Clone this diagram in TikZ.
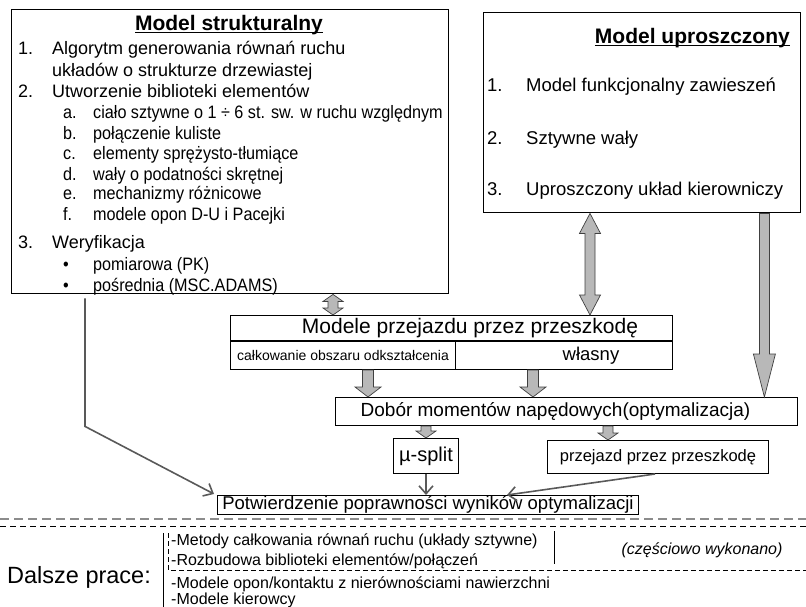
\documentclass[tikz,border=0pt]{standalone}
\usepackage{fontspec}
\setmainfont{Liberation Sans}
\newfontfamily\narrowsf[FakeStretch=0.9]{Liberation Sans}
\usetikzlibrary{calc,positioning,arrows.meta}

\newcommand{\fsz}[1]{\fontsize{#1}{#1}\selectfont}
\newcommand{\ulin}[1]{\underline{\smash{#1}}}
% block arrows: start, end, shaft half width, head half width, head length
\newcommand{\blockdown}[5]{%
  \draw[blockarrow] ($(#1)+(-#3,0)$) -- ($(#2)+(-#3,-#5)$) -- ($(#2)+(-#4,-#5)$) -- (#2)
    -- ($(#2)+(#4,-#5)$) -- ($(#2)+(#3,-#5)$) -- ($(#1)+(#3,0)$) -- cycle;}
\newcommand{\blockboth}[5]{%
  \draw[blockarrow] (#1) -- ($(#1)+(#4,#5)$) -- ($(#1)+(#3,#5)$) -- ($(#2)+(#3,-#5)$)
    -- ($(#2)+(#4,-#5)$) -- (#2) -- ($(#2)+(-#4,-#5)$) -- ($(#2)+(-#3,-#5)$)
    -- ($(#1)+(-#3,#5)$) -- ($(#1)+(-#4,#5)$) -- cycle;}

\begin{document}
\begin{tikzpicture}[x=1pt, y=-1pt,
    box/.style={draw, line width=1, inner sep=0},
    txt/.style={anchor=base west, inner sep=0},
    blockarrow/.style={draw=black!75, line width=0.7, fill=black!28},
    linearrow/.style={draw=black!65, line width=1.6, -{Straight Barb[length=8, width=14, line width=1.6]}},
  ]
    \useasboundingbox (0,0) rectangle (806,607);

    % Model strukturalny
    \node[box, line width=1.4, minimum width=437, minimum height=284, anchor=north west] (ms) at (11,9) {};
    \node[anchor=base, inner sep=0, font=\bfseries\fsz{21}] (mst) at (229,31) {\ulin{Model strukturalny}};
    \begin{scope}[font=\fsz{18}]
    \foreach \num/\txt/\y [count=\i] in {1./Algorytm generowania równań ruchu/55,
        /układów o strukturze drzewiastej/77, 2./Utworzenie biblioteki elementów/98, 3./Weryfikacja/248} {
        \node[txt] (ln\i) at (18,\y) {\num};
        \node[txt] (lt\i) at (52,\y) {\txt};
    }
    \end{scope}
    \begin{scope}[font=\narrowsf\fsz{18}]
    \foreach \num/\txt/\y [count=\i] in {a./ciało sztywne o 1 ÷ 6 st. sw. w ruchu względnym/119,
        b./połączenie kuliste/140, c./elementy sprężysto-tłumiące/160, d./wały o podatności skrętnej/180,
        e./mechanizmy różnicowe/200, f./modele opon D-U i Pacejki/220,
        \textbullet/pomiarowa (PK)/270, \textbullet/pośrednia (MSC.ADAMS)/291} {
        \node[txt] (sn\i) at (63,\y) {\num};
        \node[txt] (st\i) at (93,\y) {\txt};
    }
    \end{scope}

    % Model uproszczony
    \node[box, line width=1.4, minimum width=317, minimum height=200, anchor=north west] (mu) at (483,12) {};
    \node[anchor=base east, inner sep=0, font=\bfseries\fsz{21}] (mut) at (790,44) {\ulin{Model uproszczony}};
    \begin{scope}[font=\fsz{18.5}]
    \foreach \num/\txt/\y [count=\i] in {1./Model funkcjonalny zawieszeń/92, 2./Sztywne wały/145,
        3./Uproszczony układ kierowniczy/196} {
        \node[txt] (rn\i) at (487,\y) {\num};
        \node[txt] (rt\i) at (526,\y) {\txt};
    }
    \end{scope}

    % Modele przejazdu
    \node[box, minimum width=442, minimum height=25, anchor=north west] (mp) at (230,315) {};
    \node[font=\fsz{21}, inner sep=0] (mpt) at (470,328) {Modele przejazdu przez przeszkodę};
    \node[box, minimum width=225, minimum height=28, anchor=north west, font=\fsz{14}] (mpl) at (mp.south west) {całkowanie obszaru odkształcenia};
    \node[box, minimum width=217, minimum height=28, anchor=north east] (mpr) at (mp.south east) {};
    \node[font=\fsz{18.5}, inner sep=0] (mprt) at ($(mpr.center)+(27,0)$) {własny};

    % optymalizacja
    \node[box, minimum width=462, minimum height=28, anchor=north west] (dm) at (335,397) {};
    \node[font=\fsz{19}, inner sep=0] (dmt) at ($(dm.center)+(-11,0)$) {Dobór momentów napędowych(optymalizacja)};
    \node[box, minimum width=65, minimum height=35, anchor=north west, font=\fsz{20}] (mus) at (393,438) {µ-split};
    \node[box, minimum width=221, minimum height=33, anchor=north west, font=\fsz{16.5}] (pp) at (547,440) {przejazd przez przeszkodę};
    \node[box, minimum width=421, minimum height=19, anchor=north west, font=\fsz{18.5}, text height=13, text depth=3.5] (po) at (217,495) {Potwierdzenie poprawności wyników optymalizacji};

    % block arrows
    \coordinate (a1s) at ($(mu.south west)+(107,0)$);
    \coordinate (a1e) at (a1s |- mp.north);
    \blockboth{a1s}{a1e}{5}{10.5}{20}
    \coordinate (a2s) at ($(mu.south east)+(-37,0)$);
    \coordinate (a2e) at (a2s |- dm.north);
    \blockdown{a2s}{a2e}{5}{11}{43}
    \coordinate (a3s) at ($(ms.south west)+(322,0)$);
    \coordinate (a3e) at (a3s |- mp.north);
    \blockboth{a3s}{a3e}{5}{10}{7}
    \coordinate (a4s) at ($(mpl.south west)+(138,0)$);
    \coordinate (a4e) at (a4s |- dm.north);
    \blockdown{a4s}{a4e}{5.5}{13}{10}
    \coordinate (a5s) at ($(mpr.south west)+(78,0)$);
    \coordinate (a5e) at (a5s |- dm.north);
    \blockdown{a5s}{a5e}{5.5}{13}{10}
    \coordinate (a6s) at (mus.north |- dm.south);
    \blockdown{a6s}{mus.north}{5}{10}{7}
    \coordinate (a7s) at ($(pp.north west)+(61,0)$);
    \coordinate (a7e) at (a7s |- dm.south);
    \blockdown{a7e}{a7s}{5}{10}{7}

    % thin arrows
    \draw[linearrow] (mus.south) -- (mus.south |- po.north);
    \draw[linearrow] ($(pp.south west)+(108,0)$) -- ($(po.north west)+(290,0)$);
    \draw[linearrow] ($(ms.south west)+(74,4)$) -- ++(0,128) -- ($(po.north west)+(-3,-1)$);

    % separator
    \draw[black!45, line width=2, dash pattern=on 9 off 5] (0,519) -- (806,519);
    \draw[black, line width=1, dash pattern=on 6 off 4] (0,526) -- (806,526);

    % Dalsze prace
    \node[anchor=west, inner sep=0, font=\fsz{23.5}] (dp) at (7,577) {Dalsze prace:};
    \draw[line width=0.9] (163,533) -- (163,607);
    \draw[line width=0.9, dash pattern=on 5 off 3] (168,533) -- (168,570) -- (806,570);
    \draw[line width=0.8] (554,531) -- (554,564);
    \begin{scope}[font=\fsz{16}]
    \foreach \txt/\y [count=\i] in {{-Metody całkowania równań ruchu (układy sztywne)}/545,
        {-Rozbudowa biblioteki elementów/połączeń}/565, {-Modele opon/kontaktu z nierównościami nawierzchni}/588,
        {-Modele kierowcy}/604} {
        \node[txt] (dt\i) at (171,\y) {\txt};
    }
    \end{scope}
    \node[font=\itshape\fsz{16}, inner sep=0] (cw) at (702,550) {(częściowo wykonano)};

\end{tikzpicture}
\end{document}
